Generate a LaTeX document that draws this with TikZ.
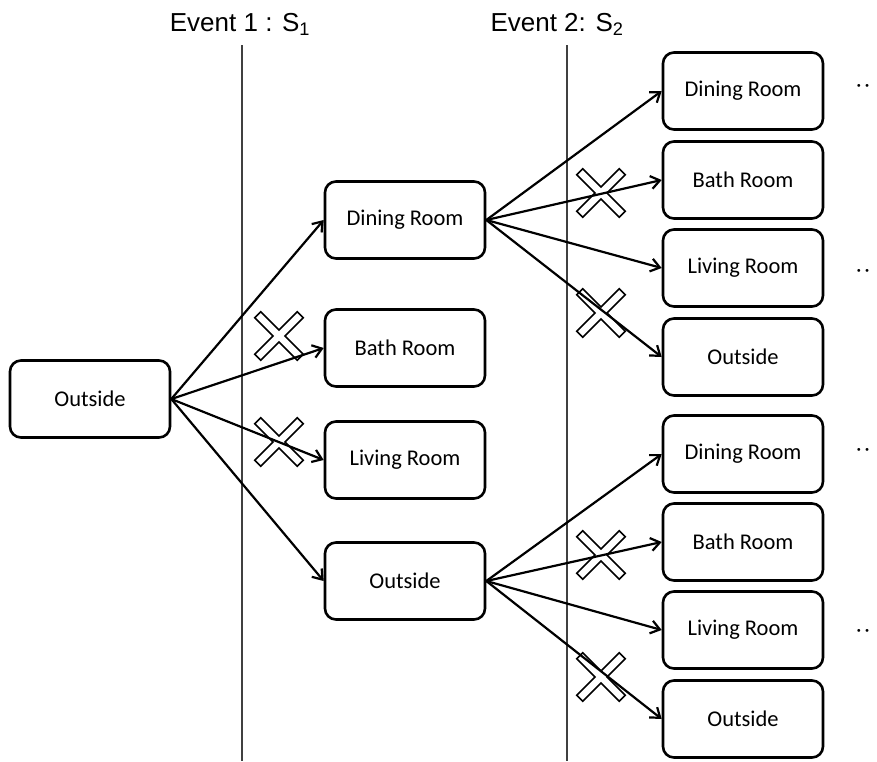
\documentclass[tikz,border=0pt]{standalone}
\usepackage{fontspec}
\setmainfont{Carlito}
\newfontfamily\titlefont{Liberation Sans}
\usetikzlibrary{arrows.meta}
\tikzset{
  room/.style={draw, line width=2.6pt, rounded corners=11pt, minimum width=160pt, minimum height=77pt, font=\fontsize{22.5}{25}\selectfont, fill=white},
  conn/.style={line width=2.2pt, -{Straight Barb[length=9pt,width=13pt,line width=2.2pt]}},
  evline/.style={line width=1.1pt, black!75},
  ttl/.style={font=\titlefont\fontsize{26}{30}\selectfont},
  xmark/.style={draw, line width=1.6pt, fill=white}
}
\newcommand{\crossmark}[2]{%
  \begin{scope}[shift={(#1,#2)}, rotate=45]
  \draw[xmark] (4.2,30)--(4.2,4.2)--(30,4.2)--(30,-4.2)--(4.2,-4.2)--(4.2,-30)--(-4.2,-30)--(-4.2,-4.2)--(-30,-4.2)--(-30,4.2)--(-4.2,4.2)--(-4.2,30)--cycle;
  \end{scope}}
\begin{document}
\begin{tikzpicture}[x=1pt,y=-1pt]
\useasboundingbox (0,0) rectangle (877,761);
% event lines
\coordinate (l1t) at (242,45); \coordinate (l1b) at (242,761);
\coordinate (l2t) at (567,45); \coordinate (l2b) at (567,761);
\draw[evline] (l1t) -- (l1b);
\draw[evline] (l2t) -- (l2b);
\node[ttl] (t1) at (240,24) {Event 1 : S\textsubscript{1}};
\node[ttl] (t2) at (557,24) {Event 2: S\textsubscript{2}};
% nodes
\node[room] (o0) at (90,399) {Outside};
\node[room] (d1) at (405,220) {Dining Room};
\node[room] (b1) at (405,348) {Bath Room};
\node[room] (v1) at (405,460) {Living Room};
\node[room] (o1) at (405,581) {Outside};
\node[room] (d2) at (743,91) {Dining Room};
\node[room] (b2) at (743,180) {Bath Room};
\node[room] (v2) at (743,268) {Living Room};
\node[room] (o2) at (743,357) {Outside};
\node[room] (d3) at (743,454) {Dining Room};
\node[room] (b3) at (743,542) {Bath Room};
\node[room] (v3) at (743,630) {Living Room};
\node[room] (o3) at (743,719) {Outside};
% crosses
\crossmark{279}{336}
\crossmark{279}{442}
\crossmark{601}{193}
\crossmark{601}{313}
\crossmark{601}{555}
\crossmark{601}{677}
% connectors
\foreach \t in {d1,b1,v1,o1} \draw[conn] (o0.east) -- (\t.west);
\foreach \t in {d2,b2,v2,o2} \draw[conn] (d1.east) -- (\t.west);
\foreach \t in {d3,b3,v3,o3} \draw[conn] (o1.east) -- (\t.west);
% dots
\foreach \y [count=\i] in {88,273,452,633} {
  \node[inner sep=0pt] (dots\i) at (863,\y) {\fontsize{20}{22}\selectfont\textperiodcentered\,\textperiodcentered};
}
\end{tikzpicture}
\end{document}
